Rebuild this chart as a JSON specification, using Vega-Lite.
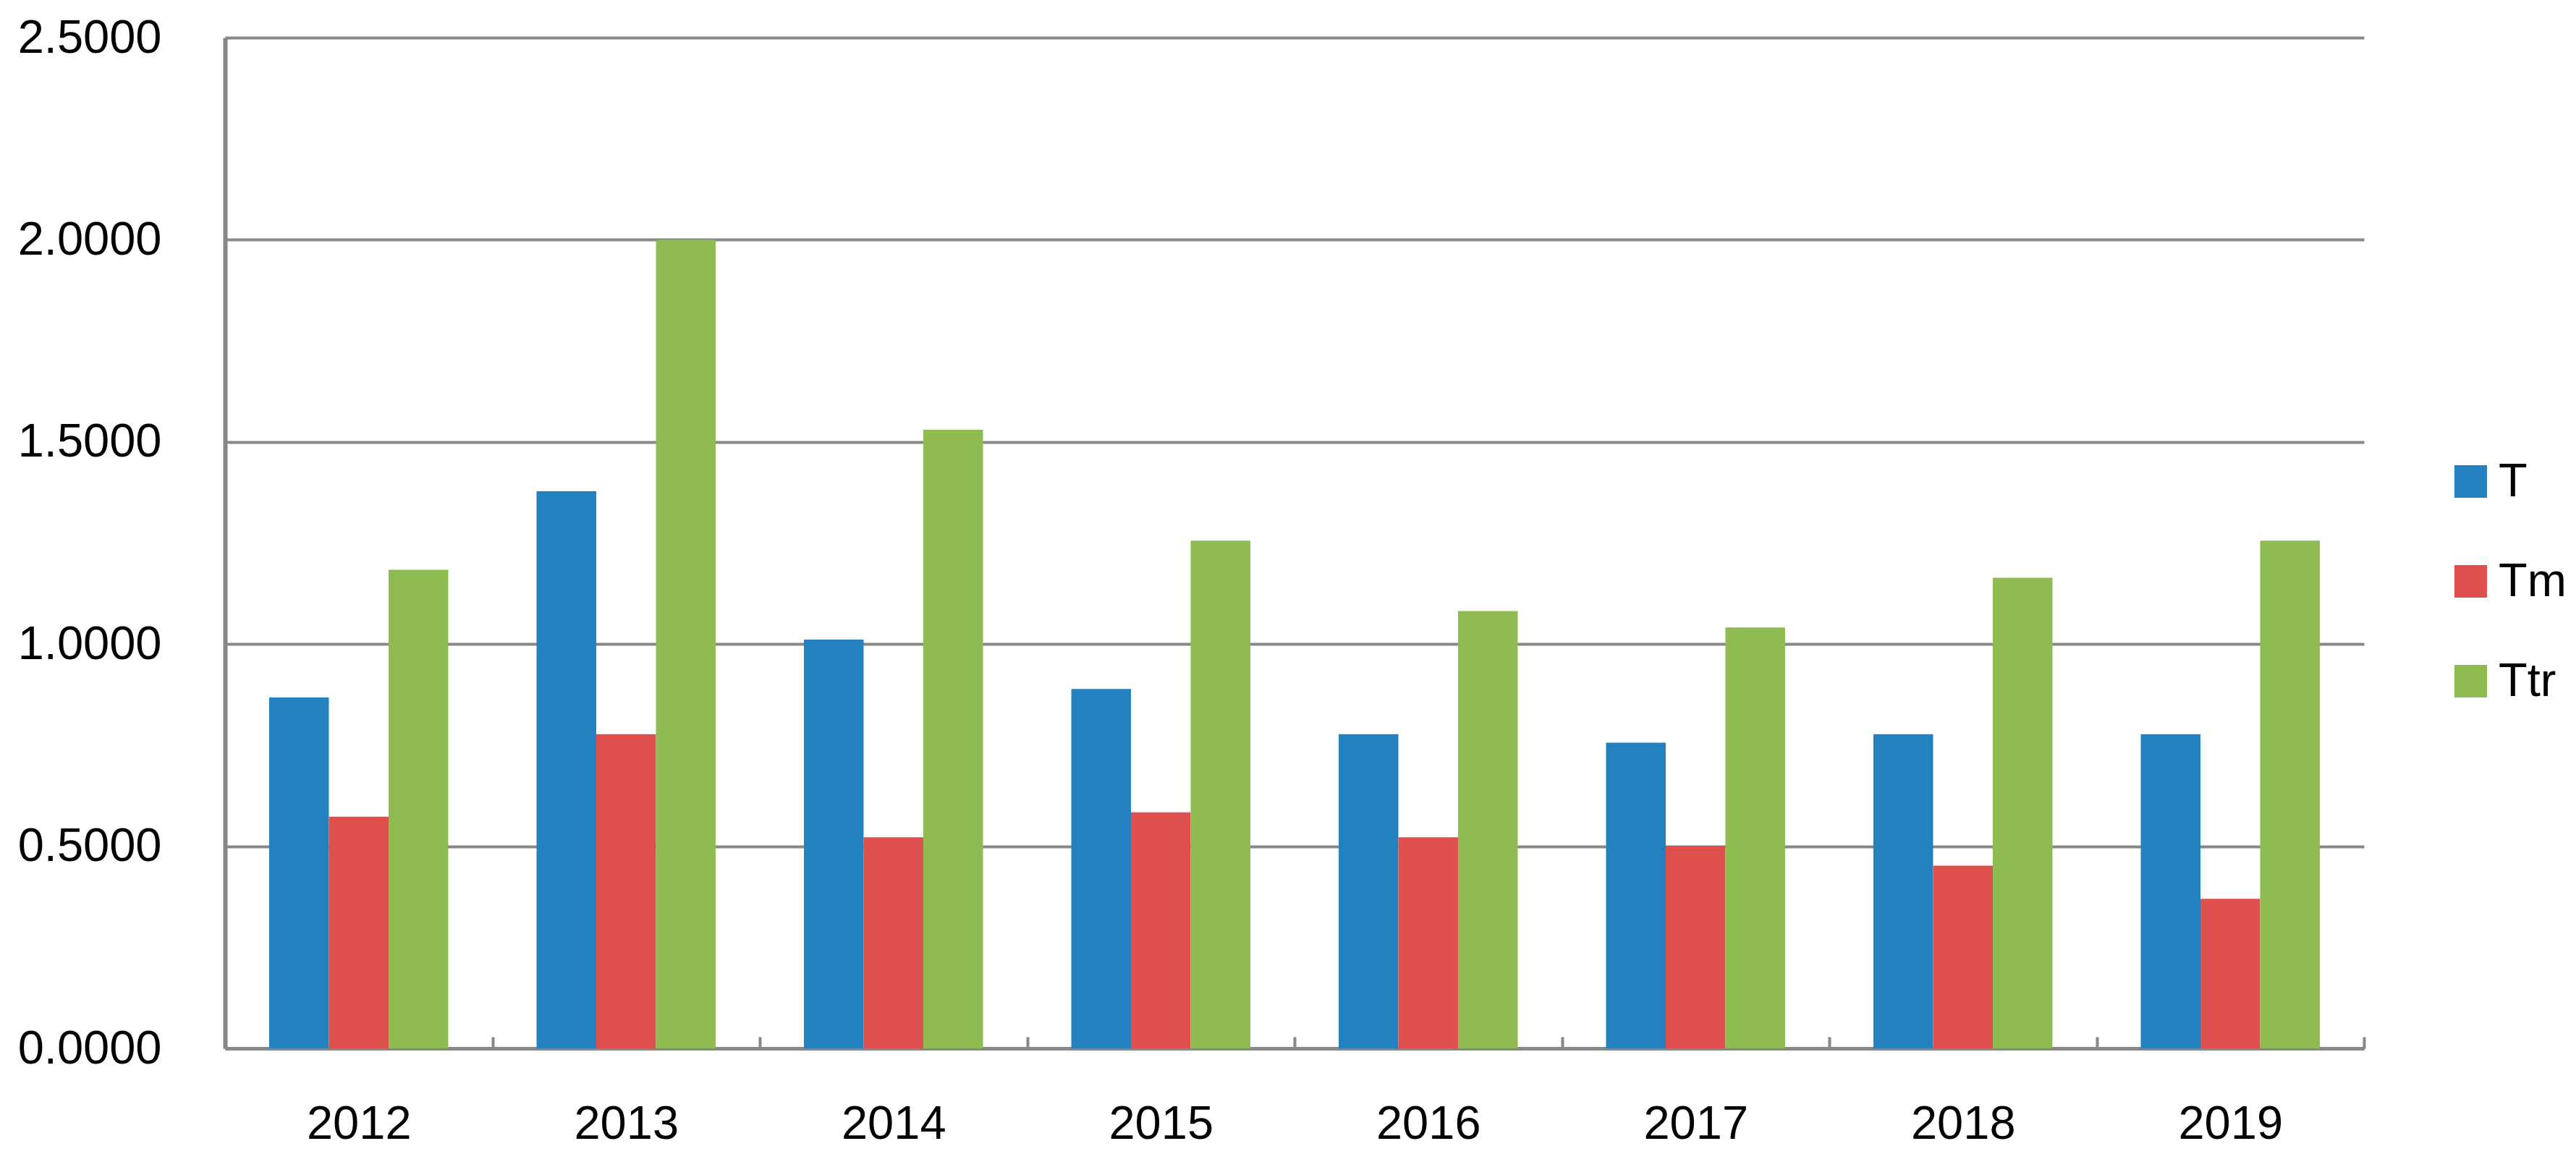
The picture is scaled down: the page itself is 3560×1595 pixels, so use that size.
{
  "$schema": "https://vega.github.io/schema/vega-lite/v6.json",
  "width": 2956,
  "height": 1397,
  "autosize": {"type": "none"},
  "padding": {"left": 311, "top": 52, "right": 293, "bottom": 146},
  "background": "white",
  "data": {
    "values": [
      {"year": "2012", "series": "T", "value": 0.868},
      {"year": "2012", "series": "Tm", "value": 0.573},
      {"year": "2012", "series": "Ttr", "value": 1.184},
      {"year": "2013", "series": "T", "value": 1.378},
      {"year": "2013", "series": "Tm", "value": 0.777},
      {"year": "2013", "series": "Ttr", "value": 2.0},
      {"year": "2014", "series": "T", "value": 1.011},
      {"year": "2014", "series": "Tm", "value": 0.522},
      {"year": "2014", "series": "Ttr", "value": 1.53},
      {"year": "2015", "series": "T", "value": 0.889},
      {"year": "2015", "series": "Tm", "value": 0.584},
      {"year": "2015", "series": "Ttr", "value": 1.256},
      {"year": "2016", "series": "T", "value": 0.777},
      {"year": "2016", "series": "Tm", "value": 0.522},
      {"year": "2016", "series": "Ttr", "value": 1.082},
      {"year": "2017", "series": "T", "value": 0.756},
      {"year": "2017", "series": "Tm", "value": 0.501},
      {"year": "2017", "series": "Ttr", "value": 1.041},
      {"year": "2018", "series": "T", "value": 0.777},
      {"year": "2018", "series": "Tm", "value": 0.452},
      {"year": "2018", "series": "Ttr", "value": 1.164},
      {"year": "2019", "series": "T", "value": 0.777},
      {"year": "2019", "series": "Tm", "value": 0.37},
      {"year": "2019", "series": "Ttr", "value": 1.256}
    ]
  },
  "mark": {"type": "bar"},
  "encoding": {
    "x": {
      "field": "year",
      "type": "nominal",
      "scale": {"paddingInner": 0, "paddingOuter": 0},
      "axis": {
        "title": null,
        "labelAngle": 0,
        "labelFont": "Liberation Sans",
        "labelFontSize": 65,
        "labelColor": "#000000",
        "labelPadding": 89,
        "tickBand": "extent",
        "tickSize": -16,
        "tickWidth": 4,
        "tickColor": "#878787",
        "domainColor": "#878787",
        "domainWidth": 5,
        "grid": false
      }
    },
    "xOffset": {
      "field": "series",
      "type": "nominal",
      "sort": ["T", "Tm", "Ttr"],
      "scale": {"paddingInner": 0, "paddingOuter": 0.74}
    },
    "y": {
      "field": "value",
      "type": "quantitative",
      "scale": {"domain": [0, 2.5], "nice": false},
      "axis": {
        "title": null,
        "values": [0, 0.5, 1, 1.5, 2, 2.5],
        "format": ".4f",
        "labelFont": "Liberation Sans",
        "labelFontSize": 65,
        "labelColor": "#000000",
        "labelLimit": 0,
        "labelPadding": 88,
        "ticks": false,
        "grid": true,
        "gridColor": "#878787",
        "gridWidth": 4,
        "domainColor": "#878787",
        "domainWidth": 6
      }
    },
    "color": {
      "field": "series",
      "type": "nominal",
      "scale": {"domain": ["T", "Tm", "Ttr"], "range": ["#2481c0", "#de504e", "#8ebc50"]},
      "legend": {
        "title": null,
        "orient": "none",
        "legendX": 3071,
        "legendY": 581,
        "padding": 0,
        "symbolType": "square",
        "symbolSize": 2025,
        "symbolStrokeWidth": 0,
        "labelFont": "Liberation Sans",
        "labelFontSize": 65,
        "labelColor": "#000000",
        "labelOffset": 6,
        "rowPadding": 72
      }
    }
  },
  "config": {"view": {"stroke": null}}
}
